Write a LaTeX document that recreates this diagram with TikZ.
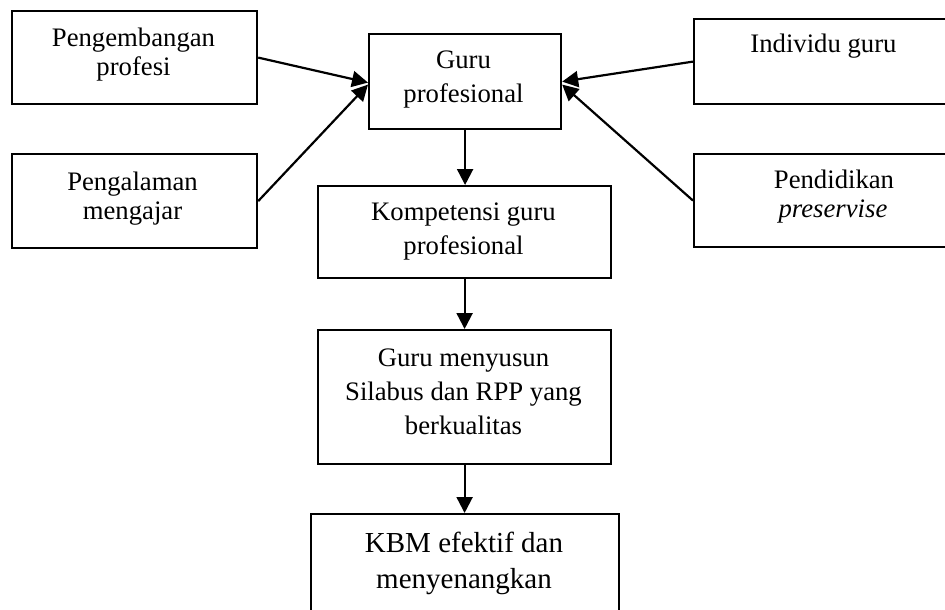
\documentclass[tikz,border=0pt]{standalone}
\usepackage{fontspec}
\setmainfont{Liberation Serif}
\usetikzlibrary{arrows.meta}
\tikzset{
  box/.style={draw, line width=2.2pt, inner sep=0pt, anchor=north west, rectangle},
  ln/.style={anchor=base, inner sep=0pt, font=\fontsize{26.7}{33}\selectfont},
  lnbig/.style={anchor=base, inner sep=0pt, font=\fontsize{29}{36}\selectfont},
  arr/.style={line width=2.2pt, -{Triangle[length=16pt,width=16pt]}}
}
\begin{document}
\begin{tikzpicture}[x=1pt,y=-1pt]
\useasboundingbox (0,0) rectangle (945,610);
\clip (0,0) rectangle (945,610);
% boxes
\node[box, minimum width=245pt, minimum height=93pt] (peng) at (11,10) {};
\node[box, minimum width=245pt, minimum height=94pt] (pal) at (11,153) {};
\node[box, minimum width=192pt, minimum height=95pt] (guru) at (368,33) {};
\node[box, minimum width=265pt, minimum height=85pt] (indiv) at (693,18) {};
\node[box, minimum width=265pt, minimum height=93pt] (pend) at (693,153) {};
\node[box, minimum width=293pt, minimum height=92pt] (komp) at (317,185) {};
\node[box, minimum width=293pt, minimum height=134pt] (susun) at (317,329) {};
\node[box, minimum width=308pt, minimum height=110pt] (kbm) at (310,513) {};
% texts
\node[ln] (peng1) at (133.5,47) {Pengembangan};
\node[ln] (peng2) at (133.5,75) {profesi};
\node[ln] (pal1) at (132.5,190) {Pengalaman};
\node[ln] (pal2) at (132.5,219) {mengajar};
\node[ln] (guru1) at (463.5,68) {Guru};
\node[ln] (guru2) at (463.5,102) {profesional};
\node[ln] (indiv1) at (823.5,53) {Individu guru};
\node[ln] (pend1) at (834,188) {Pendidikan};
\node[ln] (pend2) at (833,217) {\itshape preservise};
\node[ln] (komp1) at (463.5,220) {Kompetensi guru};
\node[ln] (komp2) at (463.5,254) {profesional};
\node[ln] (susun1) at (463.5,366) {Guru menyusun};
\node[ln] (susun2) at (463.5,400) {Silabus dan RPP yang};
\node[ln] (susun3) at (463.5,434) {berkualitas};
\node[lnbig] (kbm1) at (464,552) {KBM efektif dan};
\node[lnbig] (kbm2) at (464,588) {menyenangkan};
% arrows
\draw[arr] (peng.east) -- ([yshift=-1pt]guru.west);
\draw[arr] (pal.east) -- ([yshift=-3pt]guru.west);
\draw[arr] (indiv.west) -- (guru.east);
\draw[arr] (pend.west) -- ([yshift=-3pt]guru.east);
\draw[arr] (guru.south) -- (komp.north -| guru.south);
\draw[arr] (komp.south) -- (susun.north);
\draw[arr] (susun.south) -- (kbm.north -| susun.south);
\end{tikzpicture}
\end{document}
